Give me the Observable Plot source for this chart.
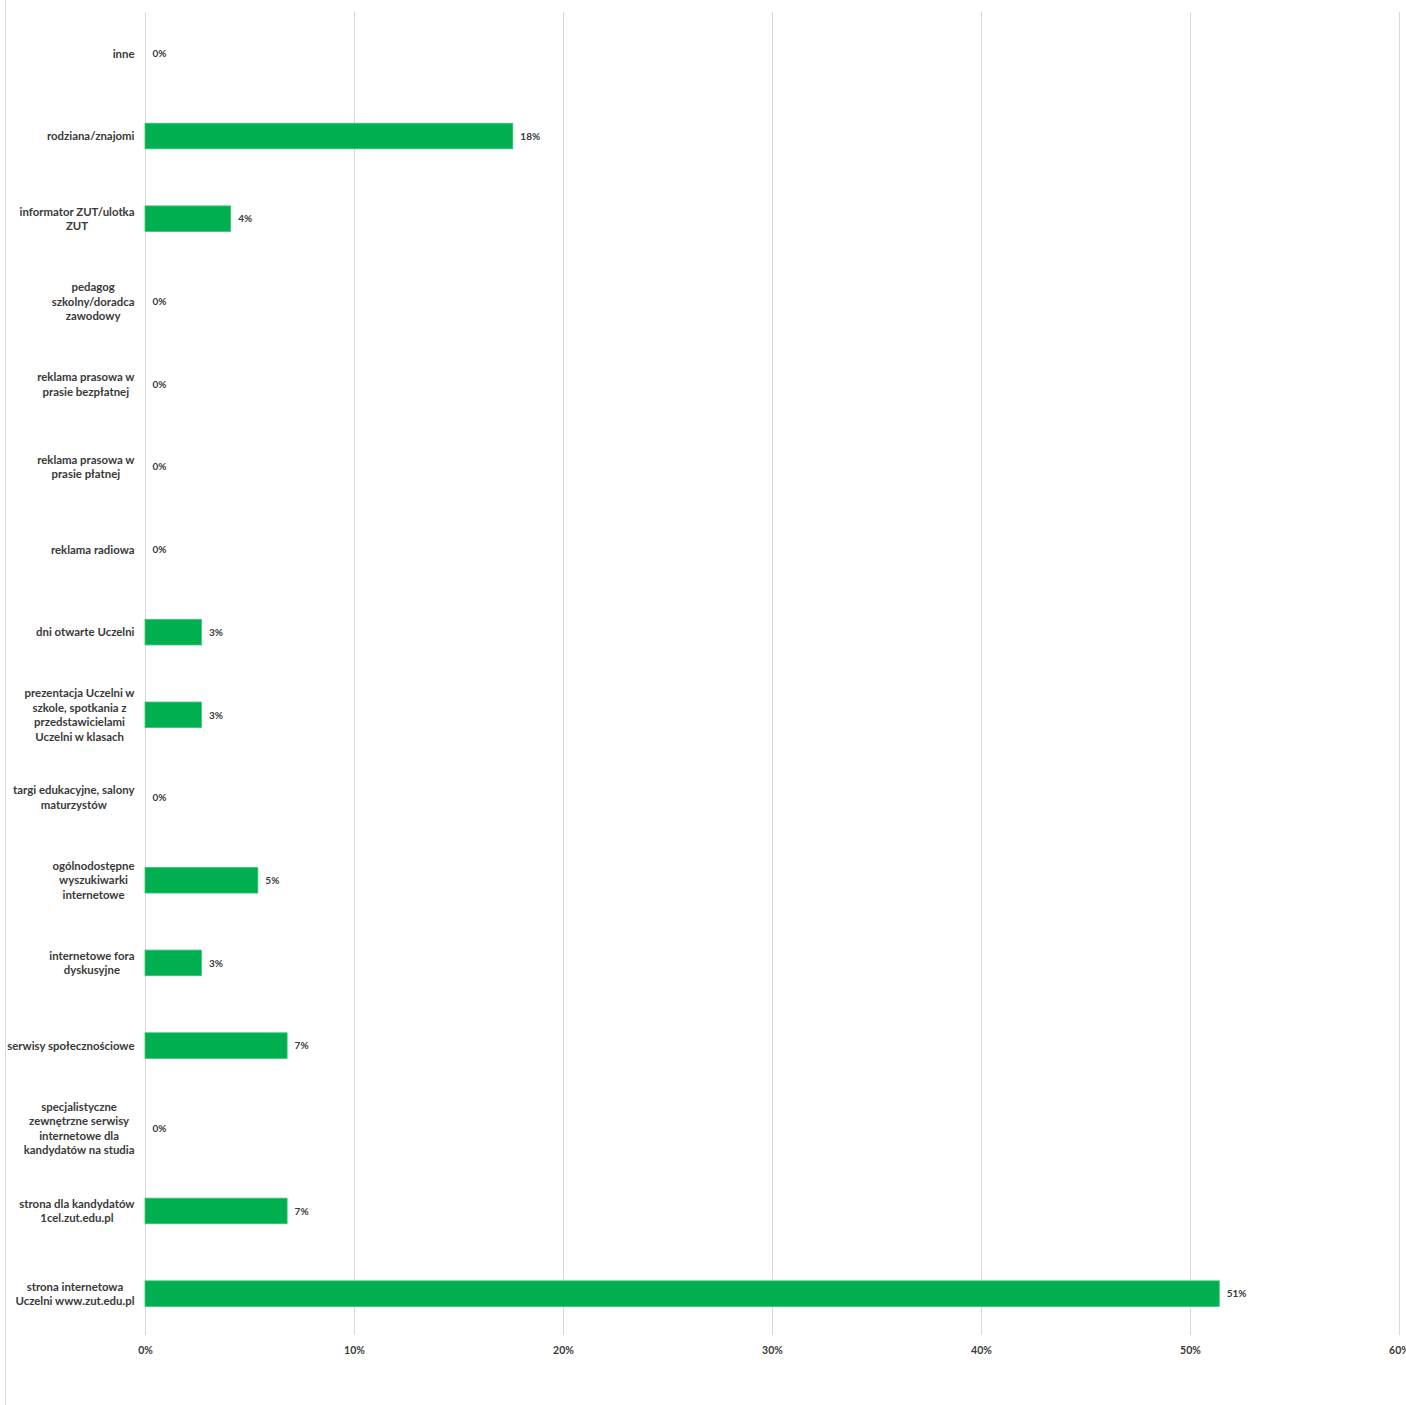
<!DOCTYPE html>
<html>
<head>
<meta charset="utf-8">
<script src="https://cdn.jsdelivr.net/npm/d3@7"></script>
<script src="https://cdn.jsdelivr.net/npm/@observablehq/plot@0.6"></script>
<style>
  html, body { margin: 0; padding: 0; background: #fff; }
  #wrap { position: relative; width: 1406px; height: 1405px; }
  #border { position: absolute; left: 5px; top: 0; width: 0; height: 1405px; border-left: 1px solid #d9d9d9; }
</style>
</head>
<body>
<div id="wrap"><div id="border"></div></div>
<script>
const categories = [
  "inne",
  "rodziana/znajomi",
  "informator ZUT/ulotka ZUT",
  "pedagog szkolny/doradca zawodowy",
  "reklama prasowa w prasie bezpłatnej",
  "reklama prasowa w prasie płatnej",
  "reklama radiowa",
  "dni otwarte Uczelni",
  "prezentacja Uczelni w szkole, spotkania z przedstawicielami Uczelni w klasach",
  "targi edukacyjne, salony maturzystów",
  "ogólnodostępne wyszukiwarki internetowe",
  "internetowe fora dyskusyjne",
  "serwisy społecznościowe",
  "specjalistyczne zewnętrzne serwisy internetowe dla kandydatów na studia",
  "strona dla kandydatów 1cel.zut.edu.pl",
  "strona internetowa Uczelni www.zut.edu.pl"
];
const wrappedLabels = [
  "inne",
  "rodziana/znajomi",
  "informator ZUT/ulotka\nZUT",
  "pedagog\nszkolny/doradca\nzawodowy",
  "reklama prasowa w\nprasie bezpłatnej",
  "reklama prasowa w\nprasie płatnej",
  "reklama radiowa",
  "dni otwarte Uczelni",
  "prezentacja Uczelni w\nszkole, spotkania z\nprzedstawicielami\nUczelni w klasach",
  "targi edukacyjne, salony\nmaturzystów",
  "ogólnodostępne\nwyszukiwarki\ninternetowe",
  "internetowe fora\ndyskusyjne",
  "serwisy społecznościowe",
  "specjalistyczne\nzewnętrzne serwisy\ninternetowe dla\nkandydatów na studia",
  "strona dla kandydatów\n1cel.zut.edu.pl",
  "strona internetowa\nUczelni www.zut.edu.pl"
];
const values = [0, 17.6, 4.1, 0, 0, 0, 0, 2.7, 2.7, 0, 5.4, 2.7, 6.8, 0, 6.8, 51.4];
const xTicks = [0, 10, 20, 30, 40, 50, 60];

const data = categories.map((c, i) => ({category: c, label: wrappedLabels[i], value: values[i]}));

const textColor = "#3a3a3a";
const chart = Plot.plot({
  width: 1406,
  height: 1405,
  marginLeft: 145,
  marginRight: 7,
  marginTop: 12,
  marginBottom: 70,
  style: {fontFamily: "Lato, 'Open Sans', sans-serif", fontSize: "11px", fontWeight: "bold", color: textColor, background: "transparent"},
  x: {domain: [0, 60], ticks: xTicks, tickFormat: d => d + "%", label: null},
  y: {domain: categories, paddingInner: 0.69, paddingOuter: 0.345, round: false, axis: null, label: null},
  marks: [
    Plot.ruleX(xTicks, {x: d => d, stroke: "#d9d9d9", strokeWidth: 1}),
    Plot.axisX({ticks: xTicks, tickFormat: d => d + "%", tickSize: 0, tickPadding: 11, label: null, fill: textColor, fontWeight: "bold", fontSize: 10.5}),
    Plot.barX(data, {x: "value", y: "category", fill: "#00b050", stroke: "#3cc67a", strokeWidth: 0.8}),
    Plot.text(data, {x: 0, y: "category", text: "label", textAnchor: "end", dx: -11, dy: -1, lineHeight: 1.28, fill: textColor, fontWeight: "bold", fontSize: 11.4}),
    Plot.text(data, {x: "value", y: "category", text: d => Math.round(d.value) + "%", textAnchor: "start", dx: 7, fill: textColor, fontWeight: "bold", fontSize: 10})
  ]
});
chart.style.position = "absolute";
chart.style.left = "0px";
chart.style.top = "0px";
document.getElementById("wrap").appendChild(chart);

// center-align lines within multi-line labels (right edge kept)
chart.querySelectorAll("text").forEach(t => {
  const spans = t.querySelectorAll("tspan");
  if (spans.length > 1) {
    const widths = Array.from(spans, s => s.getComputedTextLength());
    const maxW = Math.max(...widths);
    spans.forEach((s, i) => s.setAttribute("x", -(maxW - widths[i]) / 2));
  }
});
</script>
</body>
</html>
